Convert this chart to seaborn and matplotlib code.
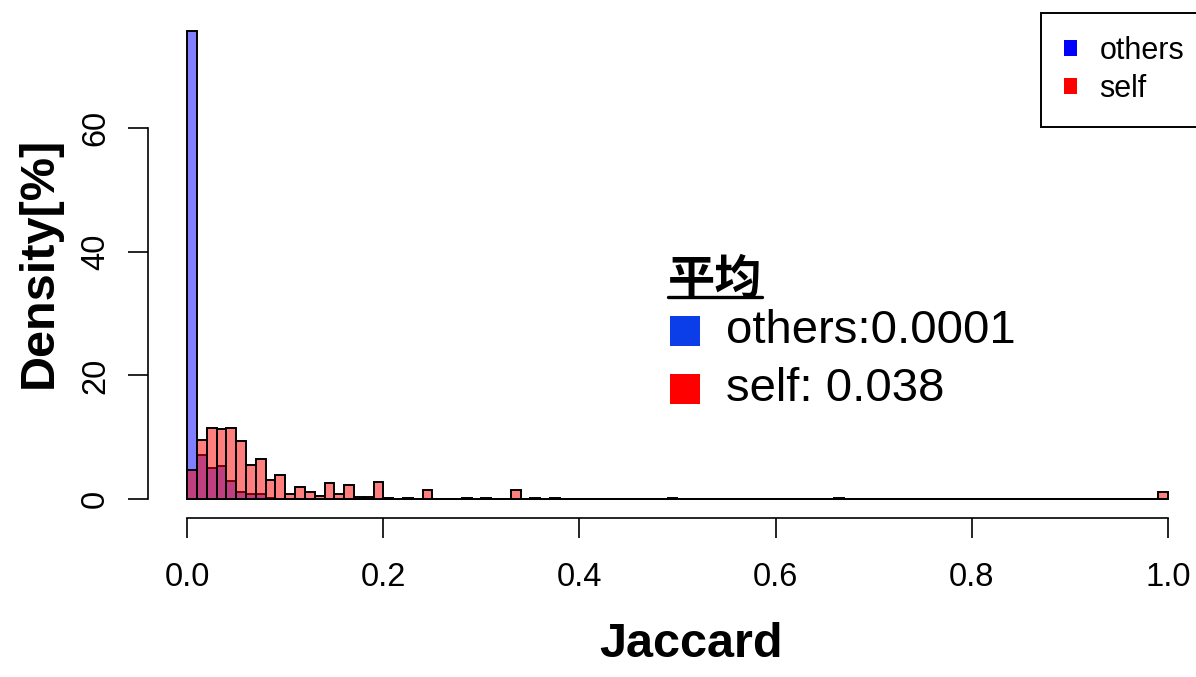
import numpy as np
import pandas as pd
import matplotlib
matplotlib.use("Agg")
import matplotlib.pyplot as plt
from matplotlib.patches import Patch, Rectangle
import seaborn as sns

# ---- data (density in % per 0.01-wide bin) ----
others_bin_left = [0.00, 0.01, 0.02, 0.03, 0.04, 0.05, 0.06, 0.07, 0.08, 0.09]
others_pct = [75.6, 7.1, 5.1, 5.3, 3.0, 1.25, 0.8, 0.8, 0.2, 0.1]

self_bin_left = [0.00, 0.01, 0.02, 0.03, 0.04, 0.05, 0.06, 0.07, 0.08, 0.09,
                 0.10, 0.11, 0.12, 0.13, 0.14, 0.15, 0.16, 0.17, 0.18, 0.19,
                 0.20, 0.22, 0.24, 0.28, 0.30, 0.33, 0.35, 0.37, 0.49, 0.66, 0.99]
self_pct = [4.7, 9.5, 11.5, 11.3, 11.5, 9.4, 5.5, 6.5, 3.1, 4.0,
            0.8, 2.0, 1.2, 0.55, 2.6, 0.8, 2.25, 0.3, 0.45, 2.8,
            0.15, 0.15, 1.45, 0.2, 0.15, 1.45, 0.15, 0.15, 0.15, 0.15, 1.1]

series_names = ["others", "self"]
mean_labels = ["others:0.0001", "self: 0.038"]
mean_title = "平均"
x_ticks = [0.0, 0.2, 0.4, 0.6, 0.8, 1.0]
y_ticks = [0, 20, 40, 60]

BIN_WIDTH = 0.01

others_df = pd.DataFrame({"jaccard": np.array(others_bin_left) + BIN_WIDTH / 2,
                          "pct": others_pct})
self_df = pd.DataFrame({"jaccard": np.array(self_bin_left) + BIN_WIDTH / 2,
                        "pct": self_pct})

sns.set_theme(style="white")
plt.rcParams["font.family"] = ["Liberation Sans", "Noto Sans CJK SC", "DejaVu Sans"]

W, H = 1196, 677
fig = plt.figure(figsize=(W / 100, H / 100), dpi=100)
fig.patch.set_facecolor("white")

# plot region in pixels
left_px, right_px, top_px, bottom_px = 148, 1207, 12.7, 518
ax = fig.add_axes([left_px / W, 1 - bottom_px / H,
                   (right_px - left_px) / W, (bottom_px - top_px) / H])
ax.set_facecolor("white")

sns.histplot(data=others_df, x="jaccard", weights="pct",
             binwidth=BIN_WIDTH, binrange=(0, 1), stat="count",
             color="blue", alpha=0.5,
             edgecolor="black", linewidth=1.4, ax=ax)
sns.histplot(data=self_df, x="jaccard", weights="pct",
             binwidth=BIN_WIDTH, binrange=(0, 1), stat="count",
             color="red", alpha=0.5,
             edgecolor="black", linewidth=1.4, ax=ax)

ax.set_xlim(-0.04, 1.04)
ax.set_ylim(-3.02, 78.6)

for s in ["top", "right"]:
    ax.spines[s].set_visible(False)
ax.spines["left"].set_bounds(0, 60)
ax.spines["bottom"].set_bounds(0, 1)
for s in ["left", "bottom"]:
    ax.spines[s].set_color("black")
    ax.spines[s].set_linewidth(1.2)

ax.set_xticks(x_ticks)
ax.set_xticklabels([f"{v:.1f}" for v in x_ticks])
ax.set_yticks(y_ticks)
ax.set_yticklabels([str(v) for v in y_ticks], rotation=90, va="center")
ax.tick_params(axis="both", which="major", direction="out", length=14.5,
               width=1.2, color="black", labelsize=23.5, labelcolor="black",
               bottom=True, left=True)
ax.tick_params(axis="x", pad=17)
ax.tick_params(axis="y", pad=12)

ax.set_xlabel("Jaccard", fontsize=35, fontweight="bold", color="black")
ax.set_ylabel("Density[%]", fontsize=35, fontweight="bold", color="black")
ax.xaxis.set_label_coords((691 - left_px) / (right_px - left_px),
                          -(622 - bottom_px) / (bottom_px - top_px))
ax.yaxis.set_label_coords(-(left_px - 62) / (right_px - left_px), 0.505)

# legend in the top-right corner
handles = [Patch(facecolor="blue", edgecolor="none"),
           Patch(facecolor="red", edgecolor="none")]
leg = ax.legend(handles, series_names, loc="upper right", bbox_to_anchor=(1, 1),
                borderaxespad=0, fontsize=22, handlelength=0.44,
                handleheight=0.44, handletextpad=0.72, borderpad=0.75,
                labelspacing=0.28, fancybox=False, framealpha=1)
leg.get_frame().set_edgecolor("black")
leg.get_frame().set_linewidth(1.4)
for t in leg.get_texts():
    t.set_color("black")

# mean annotation block
def fx(px):
    return px / W


def fy(py):
    return 1 - py / H

fig.text(fx(668), fy(294), mean_title, fontsize=34, fontweight="bold",
         family=["Noto Sans CJK SC"], color="black", va="baseline", ha="left")
fig.add_artist(plt.Line2D([fx(668), fx(762)], [fy(297), fy(297)],
                          color="black", linewidth=2.4,
                          transform=fig.transFigure))
sq_colors = ["#0b3de8", "#ff0000"]
sq_tops = [316, 374]
text_centers = [331, 389]
for c, top, cy, lab in zip(sq_colors, sq_tops, text_centers, mean_labels):
    fig.add_artist(Rectangle((fx(670), fy(top + 30)), 30 / W, 30 / H,
                             facecolor=c, edgecolor="none",
                             transform=fig.transFigure))
    fig.text(fx(726), fy(cy), lab, fontsize=34, color="black",
             va="center", ha="left")

fig.savefig("out.png", dpi=100, facecolor="white")
